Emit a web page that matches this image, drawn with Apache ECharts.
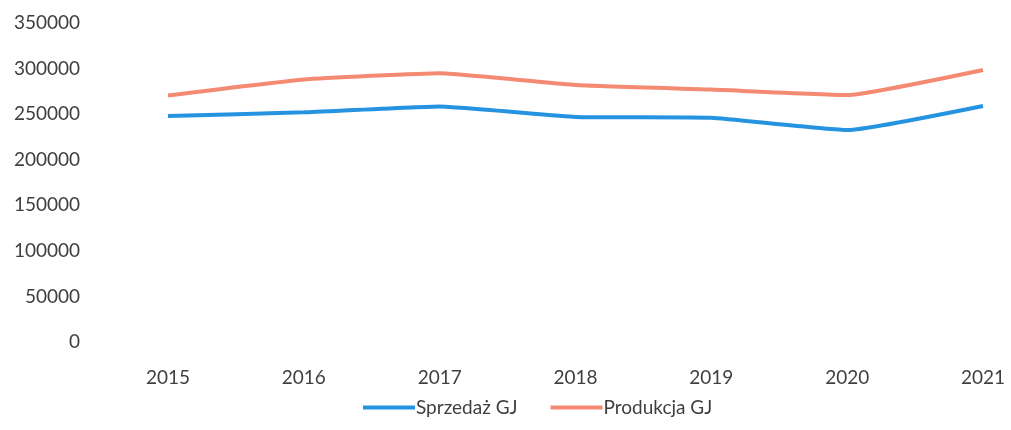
<!DOCTYPE html>
<html>
<head>
<meta charset="utf-8">
<script src="https://cdn.jsdelivr.net/npm/echarts@6/dist/echarts.min.js"></script>
<style>
  html, body { margin: 0; padding: 0; background: #fff; }
  #chart { width: 1011px; height: 430px; }
</style>
</head>
<body>
<div id="chart"></div>
<script>
// lata
var years = ['2015', '2016', '2017', '2018', '2019', '2020', '2021'];
// sprzedaż GJ (niebieska)
var sprzedaz = [248000, 252000, 258500, 247000, 246000, 232500, 259000];
// produkcja GJ (pomarańczowa)
var produkcja = [270500, 288000, 295000, 282000, 277000, 271000, 298500];

var txtColor = '#3f3f3f';
var font = 'Lato';

var option = {
  animation: false,
  grid: { left: 168, right: 28, top: 23, bottom: 88 },
  textStyle: { fontFamily: font },
  legend: {
    bottom: 8,
    left: 358,
    icon: 'rect',
    itemWidth: 52,
    itemHeight: 4,
    itemGap: 33,
    textStyle: { fontSize: 19, color: txtColor, fontFamily: font, padding: [0, 0, 0, -4] },
    data: ['Sprzedaż GJ', 'Produkcja GJ']
  },
  xAxis: {
    type: 'category',
    boundaryGap: false,
    data: years,
    axisLine: { show: false },
    axisTick: { show: false },
    axisLabel: { color: txtColor, fontSize: 19, margin: 26, fontFamily: font }
  },
  yAxis: {
    type: 'value',
    min: 0,
    max: 350000,
    interval: 50000,
    splitLine: { show: false },
    axisLine: { show: false },
    axisTick: { show: false },
    axisLabel: {
      color: txtColor, fontSize: 19, margin: 88, fontFamily: font,
      formatter: function (v) { return String(v); }
    }
  },
  series: [
    {
      name: 'Sprzedaż GJ',
      type: 'line',
      data: sprzedaz,
      smooth: 0.12,
      showSymbol: false,
      symbol: 'none',
      lineStyle: { width: 4, color: '#2593e0' },
      itemStyle: { color: '#2593e0' }
    },
    {
      name: 'Produkcja GJ',
      type: 'line',
      data: produkcja,
      smooth: 0.12,
      showSymbol: false,
      symbol: 'none',
      lineStyle: { width: 4, color: '#f48a72' },
      itemStyle: { color: '#f48a72' }
    }
  ]
};

var myChart = echarts.init(document.getElementById('chart'));
myChart.setOption(option);
</script>
</body>
</html>
